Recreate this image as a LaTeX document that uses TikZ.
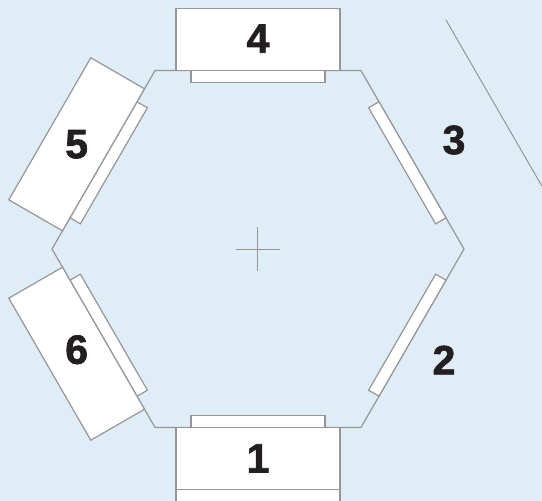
\documentclass[tikz,border=0pt]{standalone}
\usepackage{fontspec}
\setmainfont{Liberation Sans}
\newfontfamily\numfont{Liberation Sans}[BoldFeatures={FakeBold=1.6}]
\definecolor{bgblue}{RGB}{223,237,247}
\definecolor{edgegray}{RGB}{150,150,150}
\definecolor{numblack}{RGB}{35,31,32}
\begin{document}
\begin{tikzpicture}[x=1pt, y=1pt,
  panel/.style={rectangle, draw=edgegray, line width=1.2pt, fill=white, inner sep=0pt, minimum width=164pt, minimum height=62pt},
  slot/.style={panel, minimum width=134pt, minimum height=12pt},
  num/.style={text=numblack, inner sep=0pt, font=\fontsize{41}{41}\numfont\bfseries}]

\useasboundingbox (-258,-252) rectangle (284,249);

\begin{scope}
\clip (-258,-252) rectangle (284,249);
\fill[bgblue] (-258,-252) rectangle (284,249);

\coordinate (c) at (0,0);
\foreach \a in {0,60,...,300}
  \coordinate (h\a) at (\a:206pt);
\coordinate (r1) at (188,229);

\draw[edgegray, line width=1.2pt] (h0) -- (h60) -- (h120) -- (h180) -- (h240) -- (h300) -- cycle;

\draw[edgegray, line width=1pt] ([xshift=-22pt]c) -- ([xshift=22pt]c);
\draw[edgegray, line width=1pt] ([yshift=-22pt]c) -- ([yshift=22pt]c);

\draw[edgegray, line width=1pt] (r1) -- ++(-60:320pt);

% strips inside every side
\foreach \a in {30,90,...,330}
  \node[slot, rotate=\a-90] (slot\a) at (\a:172.4pt) {};

% boxes outside
\foreach \a/\n/\dy in {90/4/1,150/5/0,210/6/4,270/1/0} {
  \node[panel, rotate=\a-90] (box\n) at (\a:209.4pt) {};
  \node[num] (lab\n) at ([yshift=\dy pt]box\n.center) {\n};
}
\node[panel] (boxlow) at (270:271.4pt) {};

\node[num] (lab3) at (196,109) {3};
\node[num] (lab2) at (186,-111) {2};
\end{scope}

\end{tikzpicture}
\end{document}
